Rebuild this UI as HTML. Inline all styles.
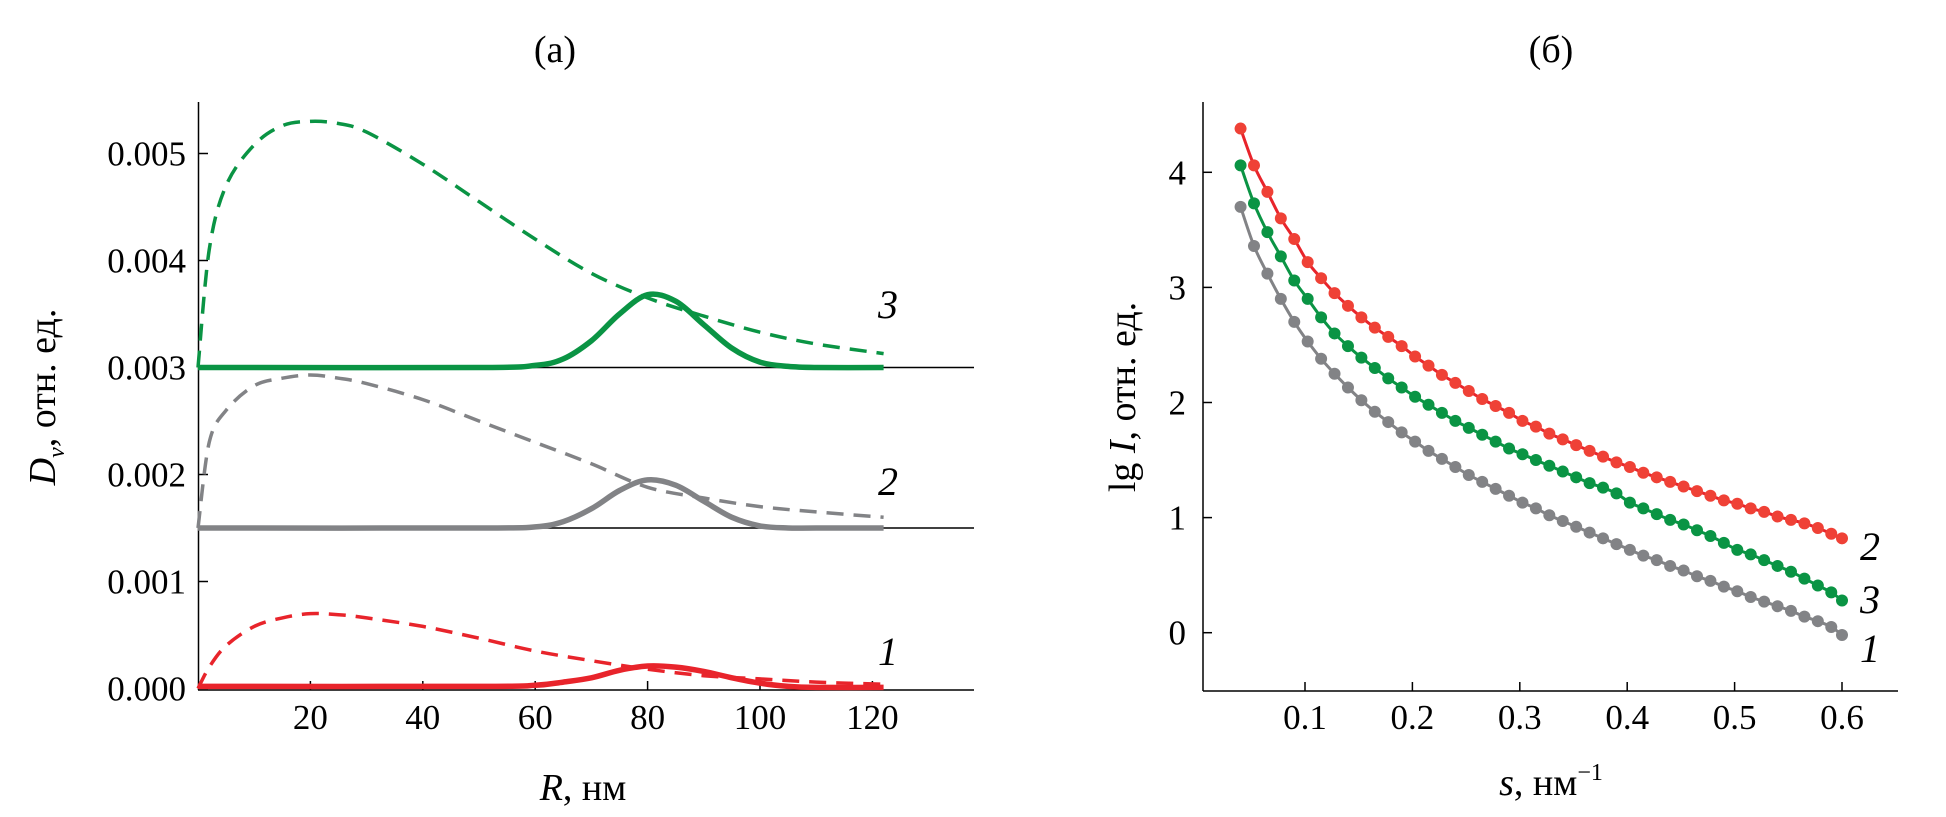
<!DOCTYPE html>
<html><head><meta charset="utf-8">
<style>
html,body{margin:0;padding:0;background:#fff;}
svg{display:block;font-family:"Liberation Serif","DejaVu Serif",serif;}
</style></head>
<body>
<svg id="chart" width="1946" height="817" viewBox="0 0 1946 817" xmlns="http://www.w3.org/2000/svg"></svg>
<script>
// ---- Panel (a) data ----
const dashR = [0,2,5,10,15,20,25,30,40,50,60,70,80,90,100,110,122];
const dashGreen = [0.003,0.0041,0.0047,0.00508,0.00526,0.0053,0.00528,0.0052,0.0049,0.00455,0.0042,0.00388,0.00365,0.00348,0.00333,0.00322,0.00313];
const dashGrey = [0.0015,0.0023,0.0026,0.00283,0.0029,0.00293,0.0029,0.00285,0.0027,0.0025,0.0023,0.0021,0.00188,0.00178,0.0017,0.00165,0.0016];
const dashRed = [0,0.0002,0.0004,0.00058,0.00066,0.0007,0.00069,0.00066,0.00058,0.00047,0.00035,0.00026,0.00018,0.00012,0.00009,0.00006,0.00004];
const solidR = [0,50,60,65,70,75,80,85,90,95,100,105,110,122];
const solidGreen = [0.003,0.003,0.00302,0.00308,0.00325,0.0035,0.00368,0.00362,0.0034,0.00318,0.00305,0.00301,0.003,0.003];
const solidGrey = [0.0015,0.0015,0.00151,0.00156,0.00168,0.00185,0.00195,0.0019,0.00175,0.0016,0.00152,0.0015,0.0015,0.0015];
const solidRed = [0.00002,0.00002,0.00003,0.00006,0.0001,0.00017,0.00021,0.0002,0.00016,0.0001,0.00005,0.00002,0.00001,0.00001];
const aXTicks = [20,40,60,80,100,120];
const aYTicks = [0,0.001,0.002,0.003,0.004,0.005];
const aYTickLabels = ["0.000","0.001","0.002","0.003","0.004","0.005"];
const aBaselines = [0.0015,0.003];
// ---- Panel (b) data ----
const sVals = [0.04,0.0525,0.065,0.0775,0.09,0.1025,0.115,0.1275,0.14,0.1525,0.165,0.1775,0.19,0.2025,0.215,0.2275,0.24,0.2525,0.265,0.2775,0.29,0.3025,0.315,0.3275,0.34,0.3525,0.365,0.3775,0.39,0.4025,0.415,0.4275,0.44,0.4525,0.465,0.4775,0.49,0.5025,0.515,0.5275,0.54,0.5525,0.565,0.5775,0.59,0.6];
const lgRed = [4.38,4.06,3.83,3.60,3.42,3.22,3.08,2.95,2.84,2.74,2.65,2.57,2.49,2.40,2.32,2.24,2.17,2.10,2.03,1.97,1.91,1.84,1.79,1.73,1.68,1.63,1.58,1.53,1.48,1.44,1.39,1.35,1.31,1.27,1.23,1.19,1.15,1.12,1.08,1.05,1.01,0.98,0.95,0.91,0.86,0.82];
const lgGreen = [4.06,3.73,3.48,3.27,3.06,2.90,2.74,2.60,2.49,2.39,2.30,2.21,2.13,2.05,1.98,1.91,1.84,1.78,1.72,1.66,1.60,1.55,1.50,1.45,1.40,1.35,1.30,1.26,1.21,1.13,1.08,1.03,0.98,0.94,0.89,0.84,0.78,0.72,0.68,0.63,0.58,0.53,0.47,0.41,0.35,0.28];
const lgGrey = [3.70,3.36,3.12,2.90,2.70,2.53,2.38,2.25,2.13,2.02,1.92,1.83,1.74,1.66,1.58,1.51,1.44,1.37,1.31,1.25,1.19,1.13,1.08,1.02,0.97,0.92,0.87,0.82,0.77,0.72,0.67,0.63,0.58,0.54,0.49,0.45,0.40,0.36,0.31,0.27,0.23,0.19,0.14,0.10,0.05,-0.02];
const bXTicks = [0.1,0.2,0.3,0.4,0.5,0.6];
const bYTicks = [0,1,2,3,4];

const svg = document.getElementById('chart');
const NS = 'http://www.w3.org/2000/svg';
function mk(tag, attrs, parent){ const e=document.createElementNS(NS,tag); for(const k in attrs) e.setAttribute(k,attrs[k]); (parent||svg).appendChild(e); return e; }

const GREEN='#0a9444', GREY='#828386', RED='#e8242b', REDDOT='#ef4136';
const TF=35;

const ax = r => 198 + r*5.62;
const ay = v => 688.5 - v*107000;
const bx = s => 1197.6 + s*1074;
const by = v => 632.7 - v*115.1;

function smoothD(xs, ys, fx, fy){
  const P = xs.map((x,i)=>[fx(x),fy(ys[i])]);
  let d='M'+P[0][0].toFixed(1)+','+P[0][1].toFixed(1);
  for(let i=0;i<P.length-1;i++){
    const p0=P[Math.max(0,i-1)],p1=P[i],p2=P[i+1],p3=P[Math.min(P.length-1,i+2)];
    const c1=[p1[0]+(p2[0]-p0[0])/6,p1[1]+(p2[1]-p0[1])/6];
    const c2=[p2[0]-(p3[0]-p1[0])/6,p2[1]-(p3[1]-p1[1])/6];
    d+='C'+c1.map(v=>v.toFixed(1)).join(',')+' '+c2.map(v=>v.toFixed(1)).join(',')+' '+p2[0].toFixed(1)+','+p2[1].toFixed(1);
  }
  return d;
}

// ===== Panel (a) =====
const ga = mk('g',{});


let t = mk('text',{x:555,y:62,'font-size':38,'text-anchor':'middle'},ga); t.textContent='(а)';
 

let l = mk('line',{x1:198.5,y1:102,x2:198.5,y2:690,stroke:'#000','stroke-width':1.5},ga);
 
l = mk('line',{x1:198,y1:690,x2:974,y2:690,stroke:'#000','stroke-width':1.5},ga);
 
aYTicks.forEach((v,i)=>{
  const tk=mk('line',{x1:198.5,y1:ay(v),x2:208,y2:ay(v),stroke:'#000','stroke-width':1.5},ga);
   
  const tx=mk('text',{x:186,y:ay(v)+12,'font-size':TF,'text-anchor':'end'},ga); tx.textContent=aYTickLabels[i];
   
});
aXTicks.forEach(v=>{
  const tk=mk('line',{x1:ax(v),y1:690,x2:ax(v),y2:681,stroke:'#000','stroke-width':1.5},ga);
   
  const tx=mk('text',{x:ax(v),y:729,'font-size':TF,'text-anchor':'middle'},ga); tx.textContent=String(v);
   
});
aBaselines.forEach(v=>{
  const b=mk('line',{x1:198,y1:ay(v),x2:974,y2:ay(v),stroke:'#000','stroke-width':1.5},ga);
   
});
t = mk('text',{x:583,y:800,'font-size':38,'text-anchor':'middle'},ga);
t.innerHTML='<tspan font-style="italic">R</tspan>, нм';
 
t = mk('text',{x:0,y:0,'font-size':38,'text-anchor':'middle',transform:'translate(55,397) rotate(-90)'},ga);
t.innerHTML='<tspan font-style="italic">D</tspan><tspan font-style="italic" font-size="24" dy="9">v</tspan><tspan dy="-9">, отн. ед.</tspan>';
 

[[dashRed,RED,'dashed-curve-1'],[dashGrey,GREY,'dashed-curve-2'],[dashGreen,GREEN,'dashed-curve-3']].forEach(([ys,c,n])=>{
  const p=mk('path',{d:smoothD(dashR,ys,ax,ay),fill:'none',stroke:c,'stroke-width':3.5,'stroke-dasharray':'17 10'},ga);
   
});
[[solidRed,RED,'solid-curve-1'],[solidGrey,GREY,'solid-curve-2'],[solidGreen,GREEN,'solid-curve-3']].forEach(([ys,c,n])=>{
  const p=mk('path',{d:smoothD(solidR,ys,ax,ay),fill:'none',stroke:c,'stroke-width':5.5},ga);
   
});
[['3',304],['2',481],['1',651]].forEach(([s,y])=>{
  const tx=mk('text',{x:878,y:y+14,'font-size':40,'font-style':'italic'},ga); tx.textContent=s;
   
});

// ===== Panel (b) =====
const gb = mk('g',{});


t = mk('text',{x:1551,y:62,'font-size':38,'text-anchor':'middle'},gb); t.textContent='(б)';
 
l = mk('line',{x1:1203,y1:102,x2:1203,y2:691,stroke:'#000','stroke-width':1.5},gb);
 
l = mk('line',{x1:1203,y1:691,x2:1898,y2:691,stroke:'#000','stroke-width':1.5},gb);
 
bYTicks.forEach(v=>{
  const tk=mk('line',{x1:1203,y1:by(v),x2:1212,y2:by(v),stroke:'#000','stroke-width':1.5},gb);
   
  const tx=mk('text',{x:1186,y:by(v)+12,'font-size':TF,'text-anchor':'end'},gb); tx.textContent=String(v);
   
});
bXTicks.forEach(v=>{
  const tk=mk('line',{x1:bx(v),y1:691,x2:bx(v),y2:682,stroke:'#000','stroke-width':1.5},gb);
   
  const tx=mk('text',{x:bx(v),y:729,'font-size':TF,'text-anchor':'middle'},gb); tx.textContent=String(v);
   
});
t = mk('text',{x:1551,y:795,'font-size':38,'text-anchor':'middle'},gb);
t.innerHTML='<tspan font-style="italic">s</tspan>, нм<tspan font-size="24" dy="-15">−1</tspan>';
 
t = mk('text',{x:0,y:0,'font-size':38,'text-anchor':'middle',transform:'translate(1135,397) rotate(-90)'},gb);
t.innerHTML='lg <tspan font-style="italic">I</tspan>, отн. ед.';
 

[[lgGrey,GREY,GREY,'1'],[lgGreen,GREEN,GREEN,'3'],[lgRed,RED,REDDOT,'2']].forEach(([ys,c,dc,n])=>{
  const p=mk('path',{d:smoothD(sVals,ys,bx,by),fill:'none',stroke:c,'stroke-width':3},gb);
   
  sVals.forEach((s,i)=>{
    const d=mk('circle',{cx:bx(s),cy:by(ys[i]),r:6,fill:dc},gb);
     
  });
});
[['2',546],['3',599],['1',648]].forEach(([s,y])=>{
  const tx=mk('text',{x:1860,y:y+14,'font-size':40,'font-style':'italic'},gb); tx.textContent=s;
   
});
</script>
</body></html>
